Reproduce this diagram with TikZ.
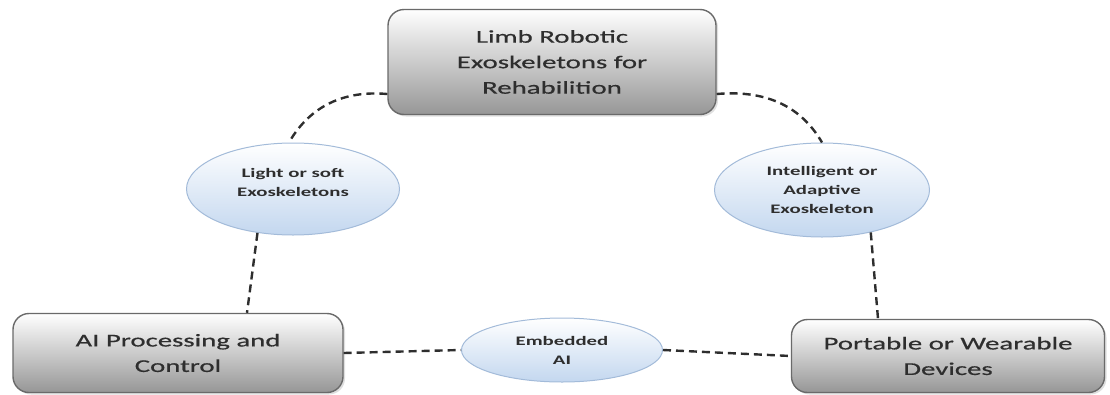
\documentclass[tikz,border=0pt]{standalone}
\usepackage{fontspec}
\usepackage{xcolor}
\usepackage{tikz}
\usetikzlibrary{shapes.geometric,shadows}

\newfontfamily\boxfont[FakeStretch=1.6,FakeBold=0.6]{Carlito}
\newfontfamily\ovalfont[FakeStretch=1.6]{Carlito Bold}

\definecolor{boxgray}{HTML}{969696}
\definecolor{boxline}{HTML}{6A6A6A}
\definecolor{ovalblue}{HTML}{C3D7EF}
\definecolor{ovalline}{HTML}{A3BBD9}
\definecolor{inkgray}{HTML}{2E2E2E}

\begin{document}
\begin{tikzpicture}[
  x=1pt, y=1pt,
  topic/.style={draw=boxline, line width=1.4pt, rounded corners=16pt,
    top color=white, bottom color=boxgray, inner sep=0pt, align=center,
    text=inkgray, font=\boxfont\fontsize{18}{25.5}\selectfont,
    drop shadow={opacity=0.25, shadow xshift=2pt, shadow yshift=-2pt}},
  branch/.style={ellipse, draw=ovalline, line width=1pt,
    top color=white, bottom color=ovalblue, inner sep=0pt, align=center,
    text=inkgray, font=\ovalfont\fontsize{13}{19}\selectfont},
  link/.style={draw=inkgray, line width=2.4pt, dash pattern=on 8pt off 5pt},
]
\useasboundingbox (0,0) rectangle (1110,-394);

% main boxes
\node[topic, minimum width=328pt, minimum height=105pt] (limb) at (552,-62)
  {Limb Robotic\\Exoskeletons for\\Rehabilition};
\node[topic, minimum width=330pt, minimum height=79pt] (aiproc) at (178,-353)
  {AI Processing and\\Control};
\node[topic, minimum width=313pt, minimum height=73pt] (wear) at (948,-356)
  {Portable or Wearable\\Devices};

% ovals
\node[branch, minimum width=213pt, minimum height=92pt, text depth=14pt] (soft) at (293,-189)
  {Light or soft\\Exoskeletons};
\node[branch, minimum width=215pt, minimum height=94pt] (smart) at (822,-190)
  {Intelligent or\\Adaptive\\Exoskeleton};
\node[branch, minimum width=201pt, minimum height=64pt] (embai) at (562,-350)
  {Embedded\\AI};

% dashed links
\draw[link] (limb.191) to[out=175, in=60] (soft.95);
\draw[link] (limb.349) to[out=5, in=120] (smart.north);
\draw[link] (soft.231) -- ([xshift=69pt]aiproc.north);
\draw[link] (smart.319) -- ([xshift=-70pt]wear.north);
\draw[link] (aiproc.east) -- (embai.west);
\draw[link] (embai.east) -- (wear.west);
\end{tikzpicture}
\end{document}
